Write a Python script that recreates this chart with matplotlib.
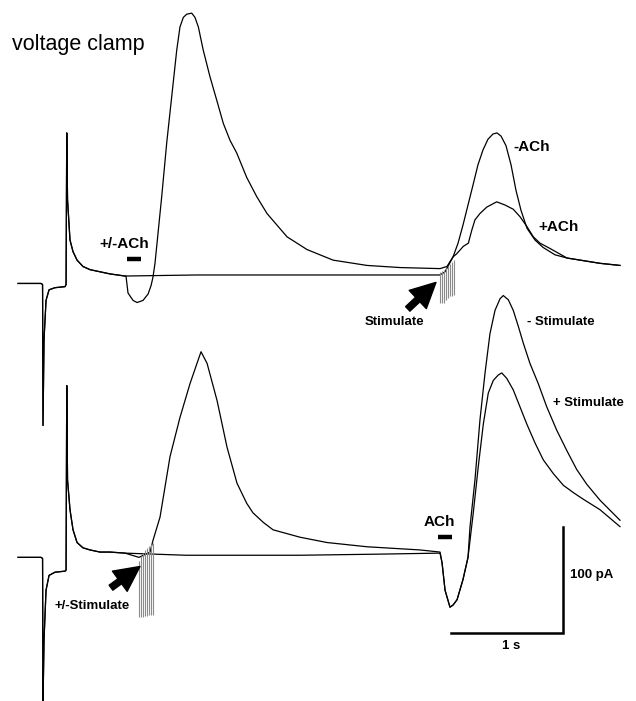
"""
Voltage clamp traces: ACh / stimulus interaction, redrawn with matplotlib
"""
import numpy as np
import matplotlib
matplotlib.use('Agg')
from matplotlib import pyplot as plt

# time in s, current in pA relative to holding baseline
# shared start of every sweep (voltage step transient + capacitive spike)
pre_t = [0, 0.205, 0.219, 0.223, 0.232, 0.25, 0.277, 0.33, 0.42, 0.429,
         0.435, 0.442, 0.464, 0.491, 0.527, 0.58, 0.643, 0.732, 0.821, 0.955]
pre_top_pA = [-7, -7, -8, -141, -60, -23, -13, -11, -10, -8,
              135, 72, 34, 23, 15, 9, 6, 4, 2, 0]
pre_bot_pA = [-5, -5, -6, -144, -83, -36, -22, -19, -18, -17,
              157, 68, 40, 21, 9, 4, 2, 0, 0, -1]

# top pair: stimulus train with / without a preceding ACh puff
minus_ach_t = [1.6, 2.4, 3.2, 3.768, 3.813, 3.884, 3.929, 3.973, 4.018, 4.063,
               4.107, 4.152, 4.196, 4.241, 4.277, 4.313, 4.357, 4.402, 4.446,
               4.491, 4.545, 4.616, 4.688, 4.795, 4.902, 5.196, 5.375]
minus_ach_pA = [1, 1, 1, 1, 4, 18, 31, 48, 67, 86,
                105, 119, 129, 134, 135, 132, 123, 105, 81,
                62, 45, 34, 27, 20, 17, 12, 10]
plus_ach_t = [0.964, 0.982, 1.027, 1.063, 1.116, 1.161, 1.188, 1.205, 1.223,
              1.283, 1.328, 1.372, 1.417, 1.446, 1.476, 1.506, 1.551, 1.58,
              1.61, 1.654, 1.714, 1.774, 1.833, 1.893, 1.953, 2.042, 2.131,
              2.223, 2.402, 2.58, 2.813, 3.116, 3.411, 3.768, 3.83, 3.884,
              3.917, 3.976, 4.021, 4.051, 4.08, 4.125, 4.185, 4.274, 4.348,
              4.422, 4.482, 4.542, 4.601, 4.661, 4.75, 4.902, 5.196, 5.375]
plus_ach_pA = [0, -16, -23, -25, -23, -17, -9, -1, 12,
               75, 126, 169, 213, 235, 244, 247, 248, 244,
               235, 213, 188, 166, 144, 128, 116, 93, 75,
               59, 37, 25, 15, 10, 8, 7, 9, 18,
               21, 28, 31, 43, 53, 59, 65, 70, 67,
               63, 56, 47, 37, 31, 26, 17, 12, 10]

# bottom pair: ACh puff with / without a preceding stimulus train
minus_stim_t = [1.5, 2.518, 3.2, 3.768, 3.786, 3.813, 3.857, 3.884, 3.92,
                3.973, 4.018, 4.036, 4.08, 4.125, 4.17, 4.214, 4.259, 4.304,
                4.333, 4.378, 4.422, 4.467, 4.512, 4.571, 4.645, 4.721, 4.81,
                4.899, 4.988, 5.078, 5.196, 5.375]
minus_stim_pA = [-3, -3, -2, -1, -10, -36, -52, -50, -45,
                 -26, -5, 24, 68, 125, 169, 206, 228, 239,
                 242, 238, 228, 213, 197, 178, 159, 137, 115,
                 96, 78, 64, 49, 30]
plus_stim_t = [1.08, 1.179, 1.205, 1.268, 1.357, 1.446, 1.536, 1.598, 1.634,
               1.688, 1.777, 1.866, 1.955, 2.042, 2.098, 2.19, 2.277, 2.518,
               2.759, 3.116, 3.589, 3.768, 3.786, 3.813, 3.857, 3.884, 3.92,
               3.973, 4.018, 4.065, 4.11, 4.155, 4.199, 4.244, 4.288, 4.319,
               4.363, 4.422, 4.482, 4.542, 4.616, 4.69, 4.78, 4.869, 4.96,
               5.045, 5.196, 5.375]
plus_stim_pA = [-5, 0, 11, 33, 90, 127, 159, 178, 189,
                178, 143, 99, 65, 46, 37, 28, 21, 14,
                9, 5, 2, 0, -10, -36, -52, -50, -45,
                -26, -5, 37, 81, 121, 150, 162, 167, 169,
                164, 153, 137, 121, 103, 87, 74, 63, 56,
                50, 40, 24]

# stimulus artifacts (one line per pulse)
top_stim_t = [3.768, 3.786, 3.804, 3.821, 3.839, 3.857, 3.875, 3.893]
top_stim_hi = [4, 5, 6, 8, 9, 11, 13, 15]
top_stim_lo = [-25, -25, -25, -23, -21, -19, -19, -18]
bot_stim_t = [1.08, 1.098, 1.116, 1.134, 1.152, 1.17, 1.188, 1.205]
bot_stim_hi = [-8, -4, -1, 2, 4, 6, 8, 9]
bot_stim_lo = [-61, -61, -61, -60, -60, -59, -59, -59]

# drug application bars (s)
top_ach_bar = [0.973, 1.098]
bot_ach_bar = [3.75, 3.875]

# scale bar
scale_s = 1.0
scale_pA = 100

bottom_offset = -260.4
trace_kw = dict(color='black', lw=0.9)
plt.rcParams['font.family'] = ['Liberation Sans', 'DejaVu Sans']

fig = plt.figure(figsize=(6.36, 7.01), dpi=100)
ax = fig.add_axes([0, 0, 1, 1])
ax.set_xlim(-0.161, 5.518)
ax.set_ylim(-400.9, 260.4)
ax.axis('off')

# top sweeps
for t, i in [(minus_ach_t, minus_ach_pA), (plus_ach_t, plus_ach_pA)]:
    ax.plot(np.r_[pre_t, t], np.r_[pre_top_pA, i], **trace_kw)
ax.vlines(top_stim_t, top_stim_lo, top_stim_hi, color='#8a8a8a', lw=0.8)

# bottom sweeps
for t, i in [(minus_stim_t, minus_stim_pA), (plus_stim_t, plus_stim_pA)]:
    ax.plot(np.r_[pre_t, t], np.r_[pre_bot_pA, i] + bottom_offset, **trace_kw)
ax.vlines(bot_stim_t, np.array(bot_stim_lo) + bottom_offset,
          np.array(bot_stim_hi) + bottom_offset, color='#8a8a8a', lw=0.8)

# ACh bars
ax.plot(top_ach_bar, [16, 16], color='black', lw=3.2, solid_capstyle='butt')
ax.plot(bot_ach_bar, [-246, -246], color='black', lw=3.2, solid_capstyle='butt')

# arrows pointing at stimulus trains
arrow = dict(arrowstyle='simple,head_length=1.2,head_width=1.2,tail_width=0.3',
             color='black', mutation_scale=15, shrinkA=0, shrinkB=0)
ax.annotate('', xy=(3.732, -6), xytext=(3.48, -31), arrowprops=arrow)
ax.annotate('', xy=(1.089, -274), xytext=(0.83, -294), arrowprops=arrow)

# scale bar
x0, y0 = 4.869, -336.8
ax.plot([x0 - scale_s, x0, x0], [y0, y0, y0 + scale_pA], color='black', lw=1.8,
        solid_joinstyle='miter')

bold = dict(fontweight='bold', va='center')
ax.text(-0.054, 218, 'voltage clamp', fontsize=15.5, va='center', ha='left')
ax.text(0.946, 30, '+/-ACh', fontsize=11, ha='center', **bold)
ax.text(4.585, 122, '-ACh', fontsize=11, ha='center', **bold)
ax.text(4.826, 46, '+ACh', fontsize=11, ha='center', **bold)
ax.text(3.357, -43, 'Stimulate', fontsize=9.5, ha='center', **bold)
ax.text(4.545, -43, '- Stimulate', fontsize=9.5, ha='left', **bold)
ax.text(4.777, -120, '+ Stimulate', fontsize=9.5, ha='left', **bold)
ax.text(0.33, -311, '+/-Stimulate', fontsize=9.5, ha='left', **bold)
ax.text(3.763, -232, 'ACh', fontsize=11, ha='center', **bold)
ax.text(4.929, -282, '100 pA', fontsize=9.5, ha='left', **bold)
ax.text(4.402, -349, '1 s', fontsize=9.5, ha='center', **bold)

plt.savefig('out.png', dpi=100)
